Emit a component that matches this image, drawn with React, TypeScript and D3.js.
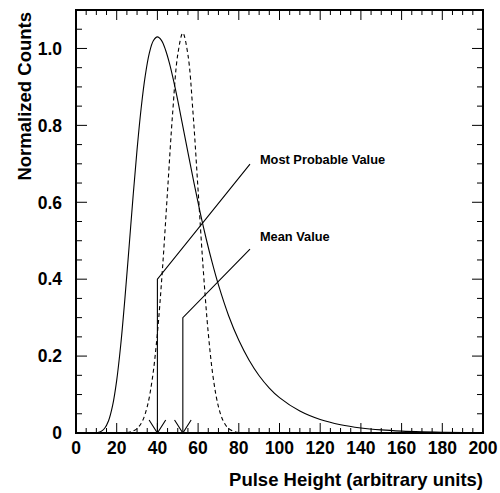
import React from "react";
import * as d3 from "d3";

// Solid curve (pulse height distribution, Landau-like)
const solidX = [10, 12, 14, 16, 18, 20, 22, 24, 26, 28, 30, 32, 34, 36, 38, 40, 42, 44, 46, 48, 50, 52, 55, 58, 61, 64, 67, 70, 75, 80, 85, 90, 95, 100, 110, 120, 130, 140, 150, 160, 170, 180, 190, 200];
const solidY = [0.0007, 0.0034, 0.0117, 0.032, 0.0717, 0.137, 0.23, 0.3475, 0.4785, 0.612, 0.737, 0.844, 0.928, 0.987, 1.02, 1.03, 1.021, 0.996, 0.96, 0.915, 0.865, 0.811, 0.73, 0.65, 0.574, 0.5045, 0.4415, 0.385, 0.305, 0.241, 0.19, 0.149, 0.117, 0.092, 0.057, 0.035, 0.0215, 0.0132, 0.0081, 0.005, 0.0031, 0.0019, 0.0012, 0.0007];

// Dashed curve (Gaussian-like)
const dashX = [25, 27.5, 30, 32.5, 35, 37.5, 40, 42.5, 45, 47.5, 50, 52.5, 55, 57.5, 60, 62.5, 65, 67.5, 70, 72.5, 75, 77.5, 80];
const dashY = [0.00125, 0.004, 0.01156, 0.0297, 0.0684, 0.1407, 0.2594, 0.4276, 0.6308, 0.8327, 0.9838, 1.04, 0.9838, 0.8327, 0.6308, 0.4276, 0.2594, 0.1407, 0.0684, 0.0297, 0.01156, 0.004, 0.00125];

// Annotations
const annoLabels = ["Most Probable Value", "Mean Value"];
const annoX = [40, 52.5];
const annoBendY = [0.4, 0.3];
const annoEndX = [85.5, 85.5];
const annoEndY = [0.699, 0.478];
const annoTextX = [90.4, 90.4];
const annoTextY = [0.712, 0.51];

const xMajor = [0, 20, 40, 60, 80, 100, 120, 140, 160, 180, 200];
const yMajor = [0, 0.2, 0.4, 0.6, 0.8, 1.0];
const yLabels = ["0", "0.2", "0.4", "0.6", "0.8", "1.0"];

const W = 500, H = 493;
const L = 76, R = 483, T = 10, B = 433;
const FONT = "'Liberation Sans', Arial, Helvetica, sans-serif";

export default function App() {
  const x = d3.scaleLinear().domain([0, 200]).range([L, R]);
  const y = d3.scaleLinear().domain([0, 1.1]).range([B, T]);
  const line = d3.line<[number, number]>().x(d => x(d[0])).y(d => y(d[1])).curve(d3.curveCatmullRom.alpha(0.5));
  const solidPts = solidX.map((v, i) => [v, solidY[i]] as [number, number]);
  const dashPts = dashX.map((v, i) => [v, dashY[i]] as [number, number]);

  const xMinor = d3.range(0, 201, 5).filter(v => v % 20 !== 0);
  const yMinor = d3.range(0, 1.1001, 0.05).filter(v => Math.abs(v / 0.2 - Math.round(v / 0.2)) > 1e-6);

  const ticks: JSX.Element[] = [];
  xMajor.forEach((v, i) => {
    ticks.push(<line key={"xb" + i} x1={x(v)} x2={x(v)} y1={B} y2={B - 10} stroke="#000" strokeWidth={1} />);
    ticks.push(<line key={"xt" + i} x1={x(v)} x2={x(v)} y1={T} y2={T + 10} stroke="#000" strokeWidth={1} />);
  });
  xMinor.forEach((v, i) => {
    ticks.push(<line key={"xbm" + i} x1={x(v)} x2={x(v)} y1={B} y2={B - 5} stroke="#000" strokeWidth={1} />);
    ticks.push(<line key={"xtm" + i} x1={x(v)} x2={x(v)} y1={T} y2={T + 5} stroke="#000" strokeWidth={1} />);
  });
  yMajor.forEach((v, i) => {
    ticks.push(<line key={"yl" + i} x1={L} x2={L + 11} y1={y(v)} y2={y(v)} stroke="#000" strokeWidth={1} />);
    ticks.push(<line key={"yr" + i} x1={R} x2={R - 11} y1={y(v)} y2={y(v)} stroke="#000" strokeWidth={1} />);
  });
  yMinor.forEach((v, i) => {
    ticks.push(<line key={"ylm" + i} x1={L} x2={L + 6} y1={y(v)} y2={y(v)} stroke="#000" strokeWidth={1} />);
    ticks.push(<line key={"yrm" + i} x1={R} x2={R - 6} y1={y(v)} y2={y(v)} stroke="#000" strokeWidth={1} />);
  });

  return (
    <svg width={W} height={H} style={{ position: "absolute", left: 0, top: 0, background: "#fff" }} fontFamily={FONT}>
      <rect x={0} y={0} width={W} height={H} fill="#fff" />
      <defs>
        <clipPath id="plot">
          <rect x={L} y={T} width={R - L} height={B - T} />
        </clipPath>
      </defs>
      <g clipPath="url(#plot)">
        <path d={line(solidPts) || ""} fill="none" stroke="#000" strokeWidth={1.1} />
        <path d={line(dashPts) || ""} fill="none" stroke="#000" strokeWidth={1.1} strokeDasharray="4,3" />
        {annoX.map((v, i) => (
          <g key={"a" + i}>
            <polyline
              points={`${x(v)},${y(0)} ${x(v)},${y(annoBendY[i])} ${x(annoEndX[i])},${y(annoEndY[i])}`}
              fill="none" stroke="#000" strokeWidth={1.1} />
            <polyline
              points={`${x(v) - 8.3},${y(0) - 13} ${x(v)},${y(0)} ${x(v) + 8.3},${y(0) - 13}`}
              fill="none" stroke="#000" strokeWidth={1.1} />
          </g>
        ))}
      </g>
      {annoLabels.map((t, i) => (
        <text key={"t" + i} x={x(annoTextX[i])} y={y(annoTextY[i])} dy="0.35em" fontSize={12.8} fontWeight="bold">{t}</text>
      ))}
      {ticks}
      <rect x={L} y={T} width={R - L} height={B - T} fill="none" stroke="#000" strokeWidth={2} />
      {xMajor.map((v, i) => (
        <text key={"xl" + i} x={x(v)} y={B + 21} textAnchor="middle" fontSize={17.5} fontWeight="bold">{String(v)}</text>
      ))}
      {yMajor.map((v, i) => (
        <text key={"yl" + i} x={L - 14} y={y(v)} dy="0.36em" textAnchor="end" fontSize={17.5} fontWeight="bold">{yLabels[i]}</text>
      ))}
      <text x={R} y={486} textAnchor="end" fontSize={18.5} fontWeight="bold">Pulse Height (arbitrary units)</text>
      <text transform={`translate(31,12) rotate(-90)`} textAnchor="end" fontSize={18.5} fontWeight="bold">Normalized Counts</text>
    </svg>
  );
}
